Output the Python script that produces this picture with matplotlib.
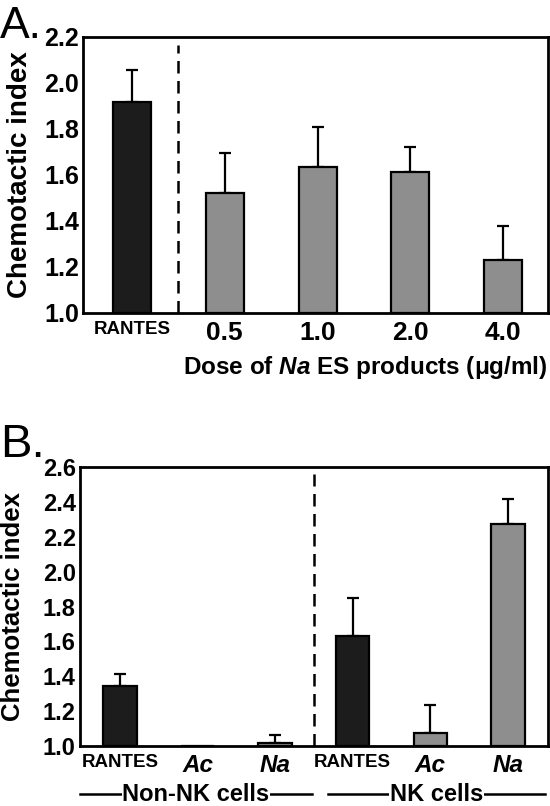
import matplotlib
matplotlib.use("Agg")
from matplotlib import pyplot as plt
from matplotlib.transforms import blended_transform_factory

plt.rcParams['font.family'] = ['Liberation Sans', 'DejaVu Sans']
plt.rcParams['font.weight'] = 'bold'
plt.rcParams['axes.labelweight'] = 'bold'
plt.rcParams['mathtext.fontset'] = 'custom'
plt.rcParams['mathtext.it'] = 'Liberation Sans:italic:bold'
plt.rcParams['mathtext.rm'] = 'Liberation Sans:bold'

# panel A: dose response
a_labels = ["RANTES", "0.5", "1.0", "2.0", "4.0"]
a_values = [1.917, 1.522, 1.635, 1.613, 1.230]
a_errors = [0.140, 0.174, 0.174, 0.109, 0.148]
a_colors = ["#1c1c1c", "#8e8e8e", "#8e8e8e", "#8e8e8e", "#8e8e8e"]

# panel B: cell populations
b_labels = ["RANTES", "Ac", "Na", "RANTES", "Ac", "Na"]
b_values = [1.344, 1.0, 1.017, 1.631, 1.075, 2.273]
b_errors = [0.069, 0.0, 0.046, 0.218, 0.160, 0.143]
b_colors = ["#1c1c1c", "#8e8e8e", "#8e8e8e", "#1c1c1c", "#8e8e8e", "#8e8e8e"]
groups = ["Non-NK cells", "NK cells"]

fig = plt.figure(figsize=(5.5, 8.06), dpi=100)
axA = fig.add_axes([0.151, 0.6117, 0.845, 0.3424])
axB = fig.add_axes([0.1455, 0.0744, 0.8505, 0.3462])


def draw_bars(ax, values, errors, colors, width, base):
    xs = list(range(len(values)))
    heights = [v - base for v in values]
    ax.bar(xs, heights, width=width, bottom=base, color=colors,
           edgecolor="black", linewidth=1.6, zorder=2)
    # only bars that have an error value get a whisker
    keep = [i for i in xs if errors[i] > 0]
    ax.errorbar([xs[i] for i in keep], [values[i] for i in keep],
                yerr=[[0] * len(keep), [errors[i] for i in keep]],
                fmt="none", ecolor="black", elinewidth=1.6, capsize=4,
                capthick=1.6, zorder=1)
    for s in ax.spines.values():
        s.set_linewidth(2.0)
        s.set_zorder(3)
    ax.tick_params(length=0, pad=6)
    return xs


xs = draw_bars(axA, a_values, a_errors, a_colors, 0.41, 1.0)
axA.set_xlim(-0.527, 4.48)
axA.set_ylim(1.0, 2.2)
axA.set_yticks([1.0, 1.2, 1.4, 1.6, 1.8, 2.0, 2.2])
axA.set_yticklabels([f"{v:.1f}" for v in axA.get_yticks()], fontsize=18)
axA.tick_params(axis="y", pad=3)
axA.axvline(0.495, ymin=0, ymax=0.97, color="black", ls=(0, (5, 3)), lw=1.8)
axA.set_xticks(xs)
axA.set_xticklabels(a_labels, fontsize=19)
axA.get_xticklabels()[0].set_fontsize(13.5)
axA.set_ylabel("Chemotactic index", fontsize=20)
axA.yaxis.set_label_coords(-0.1075, 0.5)
axA.set_xlabel(r"Dose of $\mathit{Na}$ ES products (μg/ml)", fontsize=17.5,
               loc="right", labelpad=6)
fig.text(0.0, 0.993, "A.", fontsize=32, fontweight="normal", va="top")

xs = draw_bars(axB, b_values, b_errors, b_colors, 0.43, 1.0)
axB.set_xlim(-0.515, 5.515)
axB.set_ylim(1.0, 2.6)
axB.set_yticks([1.0, 1.2, 1.4, 1.6, 1.8, 2.0, 2.2, 2.4, 2.6])
axB.set_yticklabels([f"{v:.1f}" for v in axB.get_yticks()], fontsize=17)
axB.tick_params(axis="y", pad=3)
axB.axvline(2.5, ymin=0, ymax=0.975, color="black", ls=(0, (5, 3)), lw=1.8)
axB.set_xticks(xs)
axB.set_xticklabels(b_labels, fontsize=17.5)
for t in axB.get_xticklabels():
    if t.get_text() == "RANTES":
        t.set_fontsize(13.5)
    else:
        t.set_fontstyle("italic")
axB.set_ylabel("Chemotactic index", fontsize=18.5)
axB.yaxis.set_label_coords(-0.118, 0.5)
fig.text(0.0, 0.475, "B.", fontsize=34, fontweight="normal", va="top")

# group brackets under panel B
tr = blended_transform_factory(axB.transData, axB.transAxes)
spans = [(-0.515, 2.47), (2.68, 5.48)]
for name, (x0, x1) in zip(groups, spans):
    axB.plot([x0, x1], [-0.172, -0.172], color="black", lw=1.8,
             transform=tr, clip_on=False)
    axB.text((x0 + x1) / 2, -0.172, name, transform=tr, ha="center",
             va="center", fontsize=17,
             bbox=dict(facecolor="white", edgecolor="none", pad=0.3))

fig.savefig("out.png", dpi=100)
